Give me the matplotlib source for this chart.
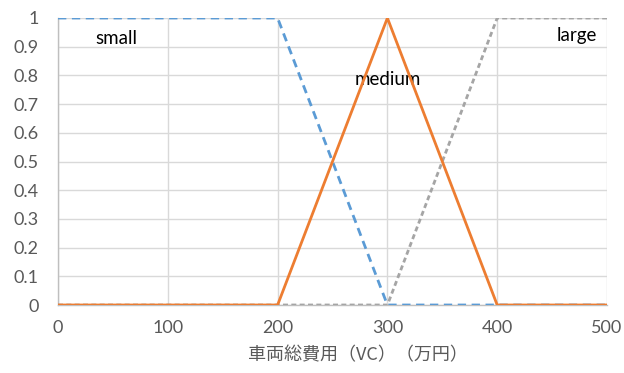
import matplotlib
matplotlib.use("Agg")
import matplotlib.pyplot as plt

x_small = [0, 200, 300, 500]
y_small = [1, 1, 0, 0]
x_medium = [0, 200, 300, 400, 500]
y_medium = [0, 0, 1, 0, 0]
x_large = [0, 300, 400, 500]
y_large = [0, 0, 1, 1]
xticks = [0, 100, 200, 300, 400, 500]
yticks = [0, 0.1, 0.2, 0.3, 0.4, 0.5, 0.6, 0.7, 0.8, 0.9, 1]
ytick_labels = ["0", "0.1", "0.2", "0.3", "0.4", "0.5", "0.6", "0.7", "0.8", "0.9", "1"]
xlabel = "車両総費用（VC）（万円）"

plt.rcParams['font.family'] = ['Lato', 'Noto Sans CJK JP', 'DejaVu Sans']

fig = plt.figure(figsize=(6.24, 3.73), dpi=100)
ax = fig.add_axes([58/624, 1-305/373, (607-58)/624, (305-18)/373])

ax.plot(x_small, y_small, color='#5B9BD5', lw=2.0, dashes=(3.0, 2.0), zorder=3)
ax.plot(x_large, y_large, color='#A5A5A5', lw=2.0, dashes=(1.8, 1.2), zorder=3)
ax.plot(x_medium, y_medium, color='#ED7D31', lw=2.0, zorder=4, solid_joinstyle='miter')

ax.set_xlim(0, 500)
ax.set_ylim(0, 1)
ax.set_xticks(xticks)
ax.set_yticks(yticks)
ax.set_yticklabels(ytick_labels)
ax.grid(True, color='#D9D9D9', lw=1)
ax.set_axisbelow(True)
for s in ['top', 'right']:
    ax.spines[s].set_visible(False)
for s in ['left', 'bottom']:
    ax.spines[s].set_color('#BFBFBF')
    ax.spines[s].set_linewidth(1)
ax.tick_params(length=0, labelsize=13, colors='#595959')
ax.tick_params(axis='y', pad=14)
ax.tick_params(axis='x', pad=11)
ax.set_xlabel(xlabel, fontsize=13, color='#595959', family=['Noto Sans CJK JP'], va='center')
ax.xaxis.set_label_coords((358-58)/549, -(355-305)/287)

ax.text(53, 0.93, "small", fontsize=13.5, color='black', ha='center', va='center')
ax.text(300.5, 0.785, "medium", fontsize=13.5, color='black', ha='center', va='center')
ax.text(491, 0.94, "large", fontsize=13.5, color='black', ha='right', va='center')

fig.savefig("out.png", dpi=100)
